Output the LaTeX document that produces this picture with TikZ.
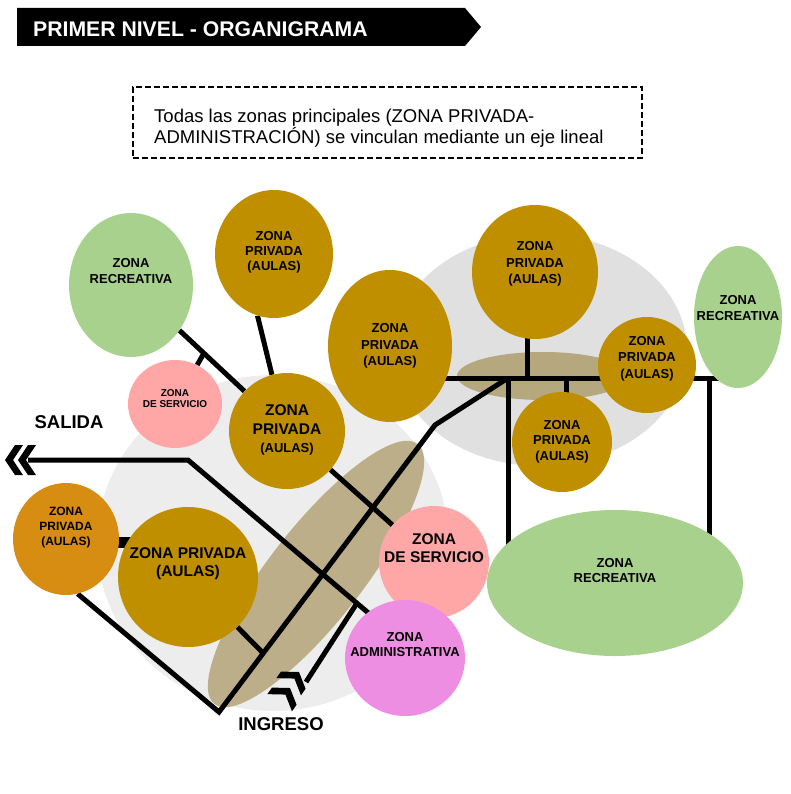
\documentclass[tikz,border=0pt]{standalone}
\usepackage{fontspec}
\setmainfont{Liberation Sans}
\usetikzlibrary{shapes.geometric,calc}
\definecolor{oro}{HTML}{BF8F00}
\definecolor{naranja}{HTML}{D68D12}
\definecolor{verde}{HTML}{A9D18E}
\definecolor{rosa}{HTML}{FFA7A7}
\definecolor{lila}{HTML}{EE8EE2}
\definecolor{grisA}{HTML}{EDEDED}
\definecolor{grisB}{HTML}{E0E0E0}
\definecolor{tostado}{HTML}{BCAE88}
\definecolor{tostadoB}{HTML}{B5A77E}
\newcommand\zfs[2]{\fontsize{#1pt}{#2pt}\selectfont\bfseries}
\pgfdeclarelayer{fondo}
\pgfdeclarelayer{ejes}
\pgfsetlayers{fondo,ejes,main}

\begin{document}
\begin{tikzpicture}[x=1pt,y=-1pt,
  zona/.style n args={3}{ellipse,inner sep=0pt,fill=#1,minimum width=#2pt,minimum height=#3pt},
  rotulo/.style={align=center,inner sep=0pt},
  eje/.style={line width=5pt},
  chevron/.pic={\fill (0,0) -- (-10,15) -- (-18,15) -- (-8,0) -- (-18,-15) -- (-10,-15) -- cycle;}]
  \useasboundingbox (0,0) rectangle (791,794);

  % titulo
  \fill (17,8) -- (465,8) -- (481,27) -- (465,46) -- (17,46) -- cycle;
  \node[rotulo,anchor=base west,text=white,font=\zfs{21.2}{24}] (titulo) at (33,37) {PRIMER NIVEL - ORGANIGRAMA};

  % nota
  \node[draw,dash pattern=on 6pt off 3pt,line width=1.6pt,minimum width=509pt,minimum height=71pt,inner sep=0pt] (nota) at (387.5,122.5) {};
  \node[rotulo,align=left,anchor=north west,font=\fontsize{18.5pt}{20.5pt}\selectfont] (notaT) at (154,109) {Todas las zonas principales (ZONA PRIVADA-\\ADMINISTRACIÓN) se vinculan mediante un eje lineal};

  % fondos
  \begin{pgfonlayer}{fondo}
    \node[zona={grisA}{352}{336}] (grisIzq) at (273,543) {};
    \node[zona={grisB}{294}{232}] (grisDer) at (540,350) {};
    \node[zona={tostado}{330}{94},rotate=52] (ejeIzq) at (316,574) {};
    \node[zona={tostadoB}{172}{48}] (ejeDer) at (543,376) {};
  \end{pgfonlayer}

  % zonas
  \node[zona={verde}{124}{144}] (recA) at (131,285) {};
  \node[zona={oro}{118}{128}] (privB) at (274,254) {};
  \node[zona={rosa}{94}{88}] (servC) at (175,404) {};
  \node[zona={oro}{116}{116}] (privD) at (287,431) {};
  \node[zona={oro}{124}{152}] (privE) at (390,346) {};
  \node[zona={oro}{126}{134}] (privF) at (535,272) {};
  \node[zona={verde}{88}{142}] (recI) at (738,317) {};
  \node[zona={oro}{98}{96}] (privG) at (647,365) {};
  \node[zona={oro}{100}{100}] (privH) at (562,442) {};
  \node[zona={verde}{256}{146}] (recJ) at (615,583) {};
  \node[zona={rosa}{110}{112}] (servK) at (434,562) {};
  \node[zona={lila}{120}{116}] (adminL) at (405,658) {};
  \node[zona={naranja}{106}{112}] (privM) at (66,539) {};
  \node[zona={oro}{140}{140}] (privN) at (188,577) {};

  \node[rotulo,font=\zfs{13}{16}] (recAt) at (131,271) {ZONA\\RECREATIVA};
  \node[rotulo,font=\zfs{13}{15}] (privBt) at (274,252) {ZONA\\PRIVADA\\(AULAS)};
  \node[rotulo,font=\zfs{10}{11.5}] (servCt) at (175,398.5) {ZONA\\DE SERVICIO};
  \node[rotulo,font=\zfs{15.5}{18.5}] (privDt) at (287,430) {ZONA\\PRIVADA\\\zfs{13}{18.5}(AULAS)};
  \node[rotulo,font=\zfs{13}{16.5}] (privEt) at (390,346) {ZONA\\PRIVADA\\(AULAS)};
  \node[rotulo,font=\zfs{13}{16.5}] (privFt) at (535,264) {ZONA\\PRIVADA\\(AULAS)};
  \node[rotulo,font=\zfs{13}{16.5}] (privGt) at (647,358.5) {ZONA\\PRIVADA\\(AULAS)};
  \node[rotulo,font=\zfs{13}{15.5}] (privHt) at (562,441.5) {ZONA\\PRIVADA\\(AULAS)};
  \node[rotulo,font=\zfs{13}{16}] (recIt) at (738,308) {ZONA\\RECREATIVA};
  \node[rotulo,font=\zfs{13}{15}] (recJt) at (615,570.5) {ZONA\\RECREATIVA};
  \node[rotulo,font=\zfs{15.5}{18}] (servKt) at (434,548) {ZONA\\DE SERVICIO};
  \node[rotulo,font=\zfs{13}{15}] (adminLt) at (405,644.5) {ZONA\\ADMINISTRATIVA};
  \node[rotulo,font=\zfs{12}{15}] (privMt) at (66,528) {ZONA\\PRIVADA\\(AULAS)};
  \node[rotulo,font=\zfs{15.5}{18}] (privNt) at (188,564) {ZONA PRIVADA\\(AULAS)};

  % accesos
  \node[rotulo,font=\zfs{18.5}{22}] (salidaT) at (69,422) {SALIDA};
  \node[rotulo,font=\zfs{18.5}{22}] (ingresoT) at (281,724) {INGRESO};
  \pic[rotate=180] at (5,460) {chevron};
  \pic[rotate=180] at (18,460) {chevron};
  \pic[rotate=55] at (299,672) {chevron};
  \pic[rotate=55] at (290,688) {chevron};

  % ejes
  \coordinate (salida) at (28,460);
  \coordinate (salCodo) at (188,460);
  \coordinate (salFin) at (372,616);
  \coordinate (ingreso) at (306,682);
  \coordinate (ingT) at (357,603);
  \coordinate (vertice) at (219,712);
  \coordinate (codo) at (435,425);
  \coordinate (nudo) at (508,378);
  \coordinate (nudoDer) at (709,378);
  \coordinate (sF) at (527,378);
  \coordinate (sH) at (566,378);
  \coordinate (sC) at (204,353);
  \coordinate (sN) at (263,653);
  \coordinate (mn) at (0,542);
  \begin{pgfonlayer}{ejes}
    \draw[eje] (salida) -- (salCodo) -- (salFin);
    \draw[eje] (ingreso) -- (ingT);
    \draw[eje] (privM.-78) -- (vertice) -- (codo) -- (nudo);
    \draw[eje] (privE.center |- nudo) -- (recI.center |- nudo);
    \draw[eje] (nudo) -- (nudo |- recJ.center);
    \draw[eje] (nudoDer) -- (nudoDer |- recJ.center);
    \draw[eje] (sF) -- (sF |- privF.center);
    \draw[eje] (sH) -- (sH |- privH.center);
    \draw[eje] (recA) -- (privD);
    \draw[eje] (servC) -- (sC);
    \draw[eje] (privB.-105) -- (privD.105);
    \draw[eje] (privD) -- (servK);
    \draw[eje] (privN) -- (sN);
    \draw[line width=11pt] (privM.center |- mn) -- (privN.center |- mn);
  \end{pgfonlayer}
\end{tikzpicture}
\end{document}
